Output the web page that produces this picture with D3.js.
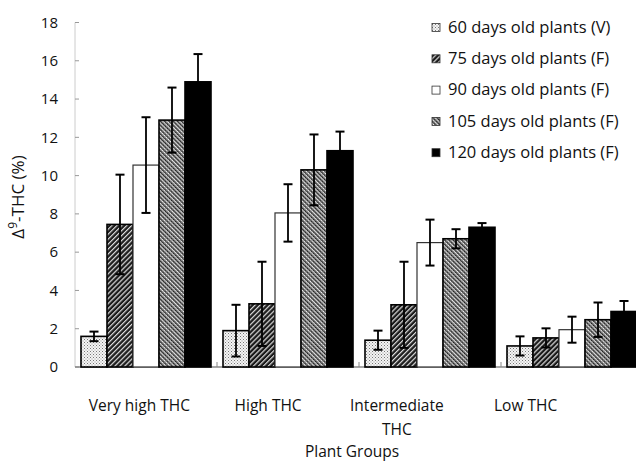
<!DOCTYPE html>
<html><head><meta charset="utf-8">
<script src="https://cdn.jsdelivr.net/npm/d3@7"></script>
<style>body{margin:0;background:#fff}svg{display:block}text{font-family:"Open Sans",sans-serif;fill:#111}</style>
</head><body>
<script>
const groups = ["Very high THC", "High THC", "Intermediate THC", "Low THC"];
const seriesNames = ["60 days old plants (V)", "75 days old plants (F)", "90 days old plants (F)", "105 days old plants (F)", "120 days old plants (F)"];
const d60  = [1.6, 1.9, 1.4, 1.1];
const d75  = [7.45, 3.3, 3.25, 1.52];
const d90  = [10.55, 8.05, 6.5, 1.95];
const d105 = [12.9, 10.3, 6.7, 2.47];
const d120 = [14.9, 11.3, 7.3, 2.9];
const e60  = [0.25, 1.35, 0.5, 0.5];
const e75  = [2.6, 2.2, 2.25, 0.5];
const e90  = [2.5, 1.5, 1.2, 0.68];
const e105 = [1.7, 1.85, 0.5, 0.9];
const e120 = [1.45, 1.0, 0.22, 0.55];
const yTicks = [0, 2, 4, 6, 8, 10, 12, 14, 16, 18];

const values = [d60, d75, d90, d105, d120];
const errors = [e60, e75, e90, e105, e120];
const fills = ["url(#p60)", "url(#p75)", "#fff", "url(#p105)", "#000"];

const W = 636, H = 464;
const svg = d3.select("body").append("svg").attr("width", W).attr("height", H);
const defs = svg.append("defs");

// patterns
const p60 = defs.append("pattern").attr("id", "p60").attr("patternUnits", "userSpaceOnUse").attr("width", 3).attr("height", 3);
p60.append("rect").attr("width", 3).attr("height", 3).attr("fill", "#f4f4f4");
p60.append("rect").attr("x", 0).attr("y", 0).attr("width", 1).attr("height", 1).attr("fill", "#777");
p60.append("rect").attr("x", 1.5).attr("y", 1.5).attr("width", 1).attr("height", 1).attr("fill", "#999");

const p75 = defs.append("pattern").attr("id", "p75").attr("patternUnits", "userSpaceOnUse").attr("width", 3.5).attr("height", 3.5).attr("patternTransform", "rotate(45)");
p75.append("rect").attr("width", 3.5).attr("height", 3.5).attr("fill", "#1a1a1a");
p75.append("rect").attr("x", 0).attr("y", 0).attr("width", 1.2).attr("height", 3.5).attr("fill", "#ddd");

const p105 = defs.append("pattern").attr("id", "p105").attr("patternUnits", "userSpaceOnUse").attr("width", 3).attr("height", 3).attr("patternTransform", "rotate(-45)");
p105.append("rect").attr("width", 3).attr("height", 3).attr("fill", "#eee");
p105.append("rect").attr("x", 0).attr("y", 0).attr("width", 1.6).attr("height", 3).attr("fill", "#222");
p105.append("rect").attr("x", 0).attr("y", 0).attr("width", 3).attr("height", 0.6).attr("fill", "#888");

const y = d3.scaleLinear().domain([0, 18]).range([367, 22.5]);
const x0 = d3.scaleBand().domain(groups).range([75, 643]);
const x1 = d3.scaleBand().domain(seriesNames).range([6, 136]);
const xLab = d3.scaleBand().domain(groups).range([75, 590]);

// y axis
svg.append("line").attr("x1", 75).attr("x2", 75).attr("y1", y(18)).attr("y2", y(0)).attr("stroke", "#ccc");
const ya = svg.append("g");
yTicks.forEach(t => {
  ya.append("line").attr("x1", 75).attr("x2", 79).attr("y1", y(t)).attr("y2", y(t)).attr("stroke", "#999");
  ya.append("text").attr("x", 58).attr("y", y(t)).attr("dy", "0.35em").attr("text-anchor", "end").attr("font-size", 15).text(t);
});

// x axis
svg.append("line").attr("x1", 75).attr("x2", W).attr("y1", y(0)).attr("y2", y(0)).attr("stroke", "#888").attr("stroke-width", 1.5);
groups.forEach((g, i) => {
  if (i > 0) svg.append("line").attr("x1", x0(g)).attr("x2", x0(g)).attr("y1", y(0)).attr("y2", y(0) - 5).attr("stroke", "#888");
});

// bars
values.forEach((vals, si) => {
  const s = seriesNames[si];
  const g = svg.append("g");
  vals.forEach((v, gi) => {
    const gx = x0(groups[gi]) + x1(s);
    g.append("rect").attr("x", gx).attr("y", y(v)).attr("width", x1.bandwidth()).attr("height", y(0) - y(v))
      .attr("fill", fills[si]).attr("stroke", si === 2 ? "#333" : "#000").attr("stroke-width", si === 2 ? 1.2 : 1.6);
  });
});
// error bars
values.forEach((vals, si) => {
  const s = seriesNames[si];
  vals.forEach((v, gi) => {
    const cx = x0(groups[gi]) + x1(s) + x1.bandwidth() / 2;
    const e = errors[si][gi];
    svg.append("line").attr("x1", cx).attr("x2", cx).attr("y1", y(v + e)).attr("y2", y(v - e)).attr("stroke", "#000").attr("stroke-width", 1.8);
    [v + e, v - e].forEach(t => svg.append("line").attr("x1", cx - 4.5).attr("x2", cx + 4.5).attr("y1", y(t)).attr("y2", y(t)).attr("stroke", "#000").attr("stroke-width", 2));
  });
});

// category labels
groups.forEach(g => {
  const cx = xLab(g) + xLab.bandwidth() / 2;
  const t = svg.append("text").attr("x", cx).attr("y", 411).attr("text-anchor", "middle").attr("font-size", 15.5);
  if (g === "Intermediate THC") {
    t.append("tspan").attr("x", cx).text("Intermediate");
    t.append("tspan").attr("x", cx).attr("dy", 24).text("THC");
  } else t.text(g);
});
svg.append("text").attr("x", 352).attr("y", 457).attr("text-anchor", "middle").attr("font-size", 15.5).text("Plant Groups");

// y title
const yt = svg.append("text").attr("transform", "translate(24,197) rotate(-90)").attr("text-anchor", "middle")
  .attr("font-family", "Liberation Sans, Arial, sans-serif").attr("font-size", 17);
yt.append("tspan").text("Δ");
yt.append("tspan").attr("font-size", 12).attr("dy", -7).text("9");
yt.append("tspan").attr("dy", 7).text("-THC (%)");

// legend
seriesNames.forEach((s, i) => {
  const ly = 27 + i * 31.3;
  svg.append("rect").attr("x", 432).attr("y", ly - 3.5).attr("width", 8).attr("height", 8)
    .attr("fill", fills[i]).attr("stroke", "#333").attr("stroke-width", 0.8);
  svg.append("text").attr("x", 448).attr("y", ly).attr("dy", "0.35em").attr("font-size", 16.5).text(s);
});
</script>
</body></html>
